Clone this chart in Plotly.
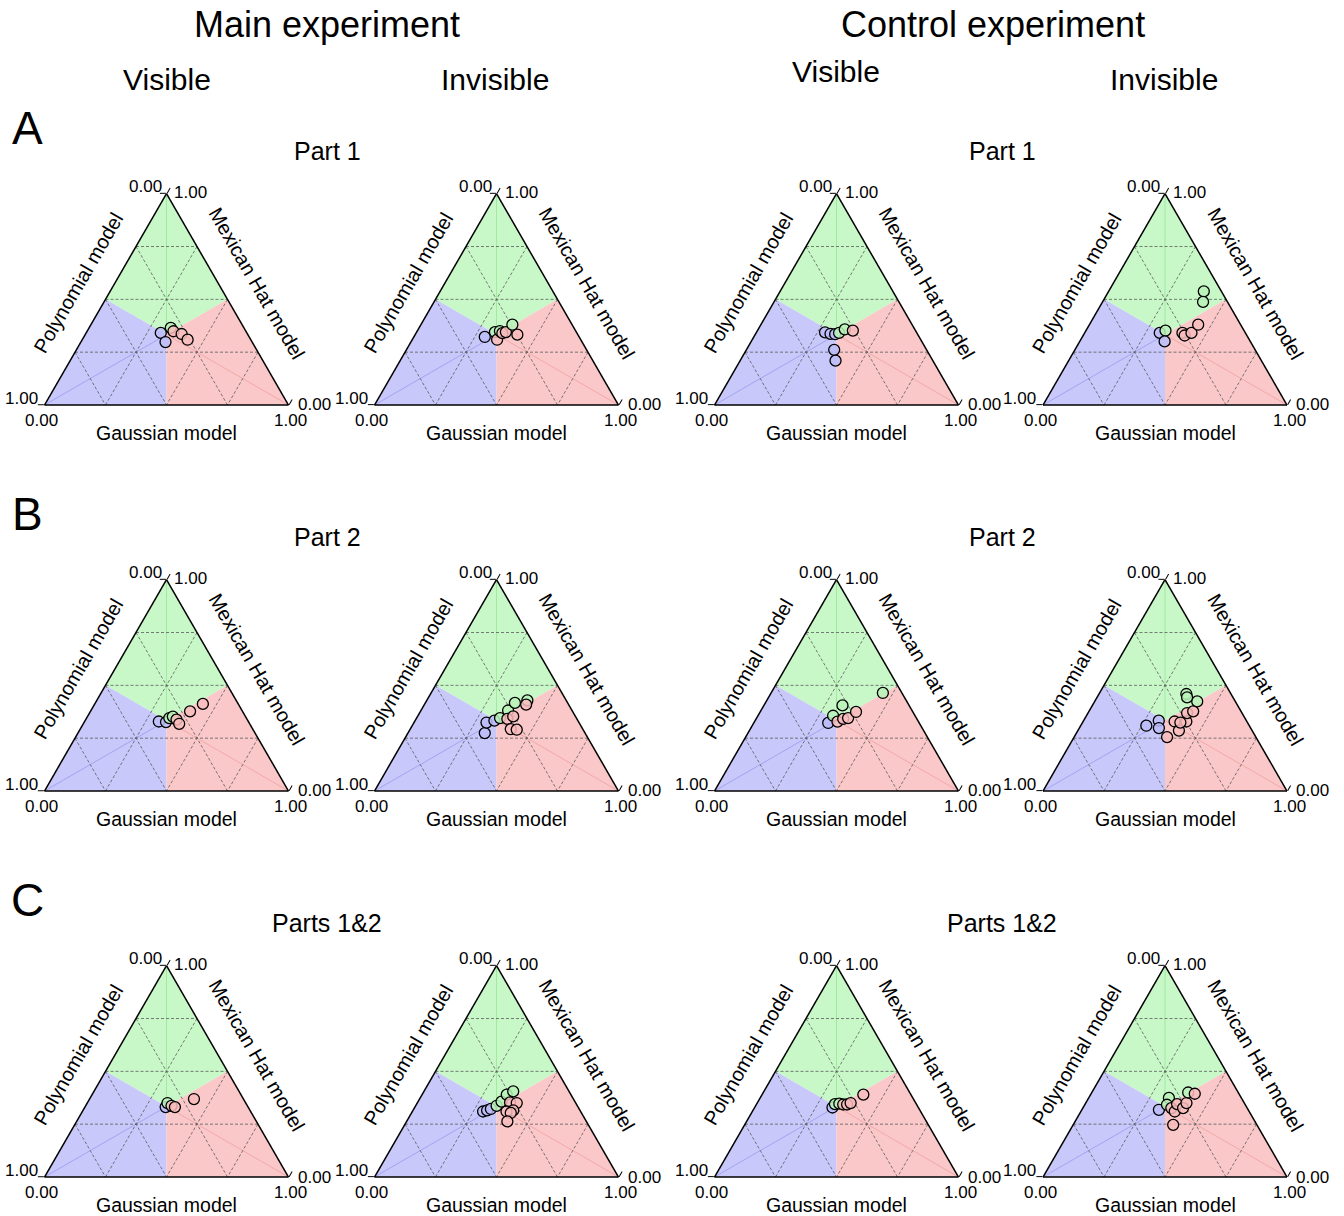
import plotly.graph_objects as go

# Ternary coordinates of each participant: model weights
# a = Mexican Hat model, b = Polynomial model, c = Gaussian model

# Row A - Part 1
MAIN_P1_VIS_MH = [0.341, 0.298, 0.365, 0.349, 0.336, 0.309]
MAIN_P1_VIS_POLY = [0.353, 0.355, 0.300, 0.297, 0.270, 0.259]
MAIN_P1_VIS_GAUSS = [0.306, 0.347, 0.335, 0.354, 0.394, 0.432]

MAIN_P1_INV_MH = [0.322, 0.345, 0.309, 0.350, 0.340, 0.345, 0.380, 0.333]
MAIN_P1_INV_POLY = [0.387, 0.334, 0.343, 0.311, 0.306, 0.289, 0.245, 0.248]
MAIN_P1_INV_GAUSS = [0.291, 0.321, 0.348, 0.339, 0.354, 0.366, 0.375, 0.419]

CTRL_P1_VIS_MH = [0.344, 0.337, 0.335, 0.341, 0.358, 0.352, 0.261, 0.210]
CTRL_P1_VIS_POLY = [0.375, 0.356, 0.338, 0.319, 0.287, 0.257, 0.379, 0.399]
CTRL_P1_VIS_GAUSS = [0.281, 0.307, 0.327, 0.340, 0.355, 0.391, 0.360, 0.391]

CTRL_P1_INV_MH = [0.341, 0.352, 0.301, 0.341, 0.329, 0.341, 0.380, 0.538, 0.488]
CTRL_P1_INV_POLY = [0.351, 0.322, 0.351, 0.258, 0.255, 0.221, 0.174, 0.072, 0.100]
CTRL_P1_INV_GAUSS = [0.308, 0.326, 0.348, 0.401, 0.416, 0.438, 0.446, 0.390, 0.412]

# Row B - Part 2
MAIN_P2_VIS_MH = [0.329, 0.326, 0.345, 0.352, 0.338, 0.318, 0.377, 0.412]
MAIN_P2_VIS_POLY = [0.367, 0.339, 0.316, 0.298, 0.290, 0.289, 0.215, 0.145]
MAIN_P2_VIS_GAUSS = [0.304, 0.335, 0.339, 0.350, 0.372, 0.393, 0.408, 0.443]

MAIN_P2_INV_MH = [0.274, 0.324, 0.333, 0.345, 0.381, 0.417, 0.429, 0.409, 0.341, 0.353, 0.293, 0.290]
MAIN_P2_INV_POLY = [0.411, 0.379, 0.342, 0.313, 0.262, 0.216, 0.159, 0.174, 0.285, 0.255, 0.295, 0.272]
MAIN_P2_INV_GAUSS = [0.315, 0.297, 0.325, 0.342, 0.357, 0.367, 0.412, 0.417, 0.374, 0.392, 0.412, 0.438]

CTRL_P2_VIS_MH = [0.322, 0.356, 0.328, 0.405, 0.341, 0.345, 0.374, 0.464]
CTRL_P2_VIS_POLY = [0.373, 0.336, 0.332, 0.273, 0.302, 0.280, 0.233, 0.078]
CTRL_P2_VIS_GAUSS = [0.305, 0.308, 0.340, 0.322, 0.357, 0.375, 0.393, 0.458]

CTRL_P2_INV_MH = [0.309, 0.333, 0.298, 0.255, 0.329, 0.286, 0.329, 0.369, 0.377, 0.424, 0.459, 0.443, 0.324]
CTRL_P2_INV_POLY = [0.422, 0.359, 0.376, 0.364, 0.296, 0.300, 0.248, 0.225, 0.196, 0.156, 0.183, 0.188, 0.275]
CTRL_P2_INV_GAUSS = [0.269, 0.308, 0.326, 0.381, 0.375, 0.414, 0.423, 0.406, 0.427, 0.420, 0.358, 0.369, 0.401]

# Row C - Parts 1&2
MAIN_P12_VIS_MH = [0.331, 0.350, 0.337, 0.331, 0.369]
MAIN_P12_VIS_POLY = [0.338, 0.321, 0.311, 0.300, 0.203]
MAIN_P12_VIS_GAUSS = [0.331, 0.329, 0.352, 0.369, 0.428]

MAIN_P12_INV_MH = [0.310, 0.315, 0.322, 0.337, 0.357, 0.390, 0.405, 0.353, 0.350, 0.315, 0.310, 0.303, 0.263]
MAIN_P12_INV_POLY = [0.400, 0.381, 0.362, 0.331, 0.301, 0.263, 0.229, 0.268, 0.242, 0.274, 0.304, 0.290, 0.324]
MAIN_P12_INV_GAUSS = [0.290, 0.304, 0.316, 0.332, 0.342, 0.347, 0.366, 0.379, 0.408, 0.411, 0.386, 0.407, 0.413]

CTRL_P12_VIS_MH = [0.329, 0.345, 0.347, 0.343, 0.343, 0.350, 0.390]
CTRL_P12_VIS_POLY = [0.352, 0.334, 0.315, 0.301, 0.285, 0.267, 0.195]
CTRL_P12_VIS_GAUSS = [0.319, 0.321, 0.338, 0.356, 0.372, 0.383, 0.415]

CTRL_P12_INV_MH = [0.318, 0.374, 0.342, 0.326, 0.310, 0.345, 0.326, 0.350, 0.400, 0.394, 0.247]
CTRL_P12_INV_POLY = [0.366, 0.297, 0.321, 0.311, 0.305, 0.278, 0.263, 0.237, 0.205, 0.181, 0.343]
CTRL_P12_INV_GAUSS = [0.316, 0.329, 0.337, 0.363, 0.385, 0.377, 0.411, 0.413, 0.395, 0.425, 0.410]

EXPERIMENTS = ["Main experiment", "Control experiment"]
CONDITIONS = ["Visible", "Invisible"]
ROW_LETTERS = ["A", "B", "C"]
ROW_PARTS = ["Part 1", "Part 2", "Parts 1&2"]
TICK_LO, TICK_HI = "0.00", "1.00"
AXIS_TITLES = {"a": "Mexican Hat model", "b": "Polynomial model", "c": "Gaussian model"}

# (row, column, a, b, c)
PANELS = [
    (0, 0, MAIN_P1_VIS_MH, MAIN_P1_VIS_POLY, MAIN_P1_VIS_GAUSS),
    (0, 1, MAIN_P1_INV_MH, MAIN_P1_INV_POLY, MAIN_P1_INV_GAUSS),
    (0, 2, CTRL_P1_VIS_MH, CTRL_P1_VIS_POLY, CTRL_P1_VIS_GAUSS),
    (0, 3, CTRL_P1_INV_MH, CTRL_P1_INV_POLY, CTRL_P1_INV_GAUSS),
    (1, 0, MAIN_P2_VIS_MH, MAIN_P2_VIS_POLY, MAIN_P2_VIS_GAUSS),
    (1, 1, MAIN_P2_INV_MH, MAIN_P2_INV_POLY, MAIN_P2_INV_GAUSS),
    (1, 2, CTRL_P2_VIS_MH, CTRL_P2_VIS_POLY, CTRL_P2_VIS_GAUSS),
    (1, 3, CTRL_P2_INV_MH, CTRL_P2_INV_POLY, CTRL_P2_INV_GAUSS),
    (2, 0, MAIN_P12_VIS_MH, MAIN_P12_VIS_POLY, MAIN_P12_VIS_GAUSS),
    (2, 1, MAIN_P12_INV_MH, MAIN_P12_INV_POLY, MAIN_P12_INV_GAUSS),
    (2, 2, CTRL_P12_VIS_MH, CTRL_P12_VIS_POLY, CTRL_P12_VIS_GAUSS),
    (2, 3, CTRL_P12_INV_MH, CTRL_P12_INV_POLY, CTRL_P12_INV_GAUSS),
]

# ---------------- layout geometry (pixels) ----------------
W_PX, H_PX = 1344, 1216
FONT = "Liberation Sans, Arial, sans-serif"
COL_CENTER = [166.5, 496.5, 836.5, 1165.0]
ROW_BOTTOM = [405.0, 791.0, 1177.0]
TRI_W = 244.0
TRI_H = TRI_W * 3 ** 0.5 / 2

REGION_FILL = {"a": "#c8f8c8", "b": "#c8c8fa", "c": "#fac8c8"}
MEDIAN_LINE = {"a": "rgba(110,220,110,0.45)", "b": "rgba(120,120,235,0.45)", "c": "rgba(235,130,130,0.45)"}
MARKER_FILL = {"a": "rgba(185,242,185,0.85)", "b": "rgba(188,188,248,0.85)", "c": "rgba(248,188,188,0.85)"}

T3 = 1 / 3
CORNER = {"a": (1, 0, 0), "b": (0, 1, 0), "c": (0, 0, 1)}
MID_AB, MID_AC, MID_BC = (0.5, 0.5, 0), (0.5, 0, 0.5), (0, 0.5, 0.5)
CENTRE = (T3, T3, T3)
REGIONS = {
    "a": [CORNER["a"], MID_AB, CENTRE, MID_AC, CORNER["a"]],
    "b": [CORNER["b"], MID_BC, CENTRE, MID_AB, CORNER["b"]],
    "c": [CORNER["c"], MID_AC, CENTRE, MID_BC, CORNER["c"]],
}
GRID_LEVELS = [0.25, 0.5, 0.75]

fig = go.Figure()
annotations = []


def ann(text, x, y, size, xanchor="center", yanchor="middle", angle=0):
    annotations.append(dict(
        text=text, x=x / W_PX, y=1 - y / H_PX, xref="paper", yref="paper",
        showarrow=False, xanchor=xanchor, yanchor=yanchor, textangle=angle,
        font=dict(family=FONT, size=size, color="black"),
    ))


def split(points):
    return ([p[0] for p in points], [p[1] for p in points], [p[2] for p in points])


layout_kw = {}
for i, (r, col, mh, poly, gauss) in enumerate(PANELS):
    key = "ternary" if i == 0 else f"ternary{i + 1}"
    cx, yb = COL_CENTER[col], ROW_BOTTOM[r]
    x0, x1 = cx - TRI_W / 2, cx + TRI_W / 2
    yt = yb - TRI_H

    axis_common = dict(
        showgrid=False, showticklabels=False, linecolor="black", linewidth=1.5,
        tickmode="array", tickvals=[0, 1], ticklen=6, tickwidth=1, tickcolor="black",
        title=dict(text=""), layer="above traces",
    )
    layout_kw[key] = dict(
        domain=dict(x=[x0 / W_PX, x1 / W_PX], y=[1 - yb / H_PX, 1 - yt / H_PX]),
        sum=1, bgcolor="white",
        aaxis=dict(axis_common, ticks="outside"),
        baxis=dict(axis_common, ticks=""),
        caxis=dict(axis_common, ticks="outside"),
    )

    # coloured regions where each model dominates
    for m, pts in REGIONS.items():
        a, b, c = split(pts)
        fig.add_trace(go.Scatterternary(
            a=a, b=b, c=c, mode="lines", fill="toself", fillcolor=REGION_FILL[m],
            line=dict(width=0, color=REGION_FILL[m]), hoverinfo="skip",
            showlegend=False, subplot=key,
        ))
        ma, mb, mc = split([CORNER[m], CENTRE])
        fig.add_trace(go.Scatterternary(
            a=ma, b=mb, c=mc, mode="lines", line=dict(width=1, color=MEDIAN_LINE[m]),
            hoverinfo="skip", showlegend=False, subplot=key,
        ))

    # dashed grid
    ga, gb, gc = [], [], []
    for v in GRID_LEVELS:
        for p, q in [((v, 1 - v, 0), (v, 0, 1 - v)),
                     ((1 - v, v, 0), (0, v, 1 - v)),
                     ((1 - v, 0, v), (0, 1 - v, v))]:
            ga += [p[0], q[0], None]
            gb += [p[1], q[1], None]
            gc += [p[2], q[2], None]
    fig.add_trace(go.Scatterternary(
        a=ga, b=gb, c=gc, mode="lines", connectgaps=False,
        line=dict(width=0.9, color="rgba(85,85,85,0.85)", dash="3px,2px"),
        hoverinfo="skip", showlegend=False, subplot=key,
    ))

    # participants, filled by their best-fitting model
    fills = []
    for va, vb, vc in zip(mh, poly, gauss):
        best = max((va, "a"), (vb, "b"), (vc, "c"))[1]
        fills.append(MARKER_FILL[best])
    fig.add_trace(go.Scatterternary(
        a=mh, b=poly, c=gauss, mode="markers",
        marker=dict(size=11, color=fills, line=dict(color="black", width=1.3)),
        showlegend=False, subplot=key,
    ))

    # corner tick labels
    ann(TICK_LO, cx - 3, yt - 7, 17, xanchor="right")
    ann(TICK_HI, cx + 6, yt - 1, 17, xanchor="left")
    ann(TICK_HI, x0 - 5, yb - 7, 17, xanchor="right")
    ann(TICK_LO, x0 - 3, yb + 15, 17)
    ann(TICK_LO, x1 + 7, yb, 17, xanchor="left")
    ann(TICK_HI, x1 + 2, yb + 15, 17)

    # side titles
    ann(AXIS_TITLES["c"], cx, yb + 28, 19.5)
    lmx, lmy = (x0 + cx) / 2, (yb + yt) / 2
    rmx, rmy = (x1 + cx) / 2, (yb + yt) / 2
    ann(AXIS_TITLES["b"], lmx - 27, lmy - 16, 20, angle=-60)
    ann(AXIS_TITLES["a"], rmx + 29, rmy - 16, 20, angle=60)

# headers
ann(EXPERIMENTS[0], 327, 24, 36)
ann(EXPERIMENTS[1], 993, 24, 36)
ann(CONDITIONS[0], 167, 80, 30)
ann(CONDITIONS[1], 495, 80, 30)
ann(CONDITIONS[0], 836, 71, 30)
ann(CONDITIONS[1], 1164, 80, 30)
for r in range(3):
    ann(ROW_LETTERS[r], 27, 128 + 386 * r, 46)
    ann(ROW_PARTS[r], 327, 151 + 386 * r, 25)
    ann(ROW_PARTS[r], 1002, 151 + 386 * r, 25)

fig.update_layout(
    width=W_PX, height=H_PX,
    margin=dict(l=0, r=0, t=0, b=0),
    paper_bgcolor="white",
    showlegend=False,
    annotations=annotations,
    **layout_kw,
)

fig.write_html("out.html")
